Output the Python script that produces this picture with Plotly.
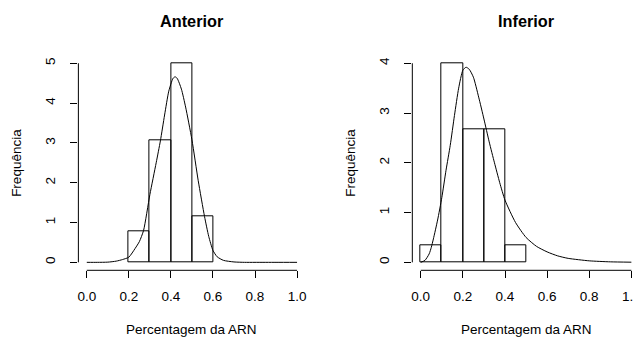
import plotly.graph_objects as go

# ---------------- data ----------------
# Anterior histogram (density scale, bins of width 0.1)
ant_bin_mid = [0.25, 0.35, 0.45, 0.55]
ant_density = [0.769, 3.077, 5.0, 1.154]
# Anterior fitted density curve
ant_curve_x = [0.00, 0.05, 0.10, 0.14, 0.17, 0.20, 0.23, 0.25, 0.27, 0.30, 0.33, 0.35,
               0.37, 0.39, 0.41, 0.42, 0.43, 0.45, 0.47, 0.50, 0.53, 0.56, 0.58, 0.60,
               0.62, 0.65, 0.70, 0.75, 0.80, 0.90, 1.00]
ant_curve_y = [0.00, 0.00, 0.005, 0.03, 0.07, 0.13, 0.35, 0.52, 0.80, 1.70, 2.50, 3.05,
               3.70, 4.30, 4.62, 4.66, 4.62, 4.35, 3.90, 3.08, 2.05, 1.15, 0.65, 0.30,
               0.14, 0.05, 0.01, 0.0, 0.0, 0.0, 0.0]

# Inferior histogram
inf_bin_mid = [0.05, 0.15, 0.25, 0.35, 0.45]
inf_density = [0.333, 4.0, 2.667, 2.667, 0.333]
# Inferior fitted density curve
inf_curve_x = [0.00, 0.02, 0.04, 0.05, 0.06, 0.08, 0.10, 0.12, 0.14, 0.16, 0.18, 0.20,
               0.215, 0.23, 0.25, 0.275, 0.30, 0.325, 0.35, 0.375, 0.40, 0.45, 0.50,
               0.55, 0.60, 0.65, 0.70, 0.80, 0.90, 1.00]
inf_curve_y = [0.00, 0.04, 0.17, 0.30, 0.47, 0.85, 1.30, 1.85, 2.35, 2.95, 3.50, 3.86,
               3.92, 3.88, 3.72, 3.32, 2.88, 2.42, 2.00, 1.60, 1.25, 0.80, 0.50,
               0.32, 0.21, 0.13, 0.08, 0.03, 0.01, 0.003]

x_ticks = [0.0, 0.2, 0.4, 0.6, 0.8, 1.0]
x_ticktext = ["0.0", "0.2", "0.4", "0.6", "0.8", "1.0"]
ant_yticks = [0, 1, 2, 3, 4, 5]
inf_yticks = [0, 1, 2, 3, 4]

titles = ["Anterior", "Inferior"]
xlabel = "Percentagem da ARN"
ylabel = "Frequência"

# ---------------- figure ----------------
# The page body has an 8px default margin; compensate so the picture lines up.
OFF = 8
W, H = 641 - OFF, 338 - OFF
FONT = "Liberation Sans, Arial, Helvetica, sans-serif"
FS = 13.5

def px_x(p):
    return (p - OFF) / W

def px_y(p):
    return 1 - (p - OFF) / H

fig = go.Figure()

bar_style = dict(marker=dict(color="rgba(0,0,0,0)", line=dict(color="black", width=1)),
                 width=0.1, showlegend=False, hoverinfo="skip")
line_style = dict(mode="lines", line=dict(color="black", width=1, shape="spline", smoothing=0.6),
                  showlegend=False, hoverinfo="skip")

fig.add_trace(go.Bar(x=ant_bin_mid, y=ant_density, xaxis="x", yaxis="y", **bar_style))
fig.add_trace(go.Scatter(x=ant_curve_x, y=ant_curve_y, xaxis="x", yaxis="y", **line_style))
fig.add_trace(go.Bar(x=inf_bin_mid, y=inf_density, xaxis="x2", yaxis="y2", **bar_style))
fig.add_trace(go.Scatter(x=inf_curve_x, y=inf_curve_y, xaxis="x2", yaxis="y2", **line_style))

# plot regions (pixels in the final picture)
left_px = [(77.6, 305.4), (412.6, 640.8)]
top_px, bot_px = 55.3, 270.3
ydom = [px_y(bot_px), px_y(top_px)]

def xaxis_cfg(dom):
    return dict(domain=[px_x(dom[0]), min(1.0, px_x(dom[1]))], range=[-0.04, 1.04],
                tickvals=x_ticks, ticktext=x_ticktext, ticks="outside", ticklen=7,
                tickwidth=1, tickcolor="black", showgrid=False, zeroline=False,
                showline=False, tickfont=dict(family=FONT, size=FS, color="black"),
                ticklabelstandoff=6, fixedrange=True)

def yaxis_cfg(ticks, anchor):
    top = ticks[-1]
    pad = top * 0.04
    return dict(domain=ydom, range=[-pad, top + pad], tickvals=ticks, ticks="outside",
                ticklen=7, tickwidth=1, tickcolor="black", showgrid=False, zeroline=False,
                showline=False, tickangle=-90, anchor=anchor,
                tickfont=dict(family=FONT, size=FS, color="black"),
                ticklabelstandoff=10, fixedrange=True)

fig.update_layout(
    width=W, height=H, margin=dict(l=0, r=0, t=0, b=0),
    paper_bgcolor="white", plot_bgcolor="white", bargap=0,
    xaxis=dict(xaxis_cfg(left_px[0]), anchor="y"),
    yaxis=yaxis_cfg(ant_yticks, "x"),
    xaxis2=dict(xaxis_cfg(left_px[1]), anchor="y2"),
    yaxis2=yaxis_cfg(inf_yticks, "x2"),
    font=dict(family=FONT, size=FS, color="black"),
)

# R-style axis lines spanning only the tick range
shapes = []
for xa, ya, ymax in [("x", "y", 5), ("x2", "y2", 4)]:
    shapes.append(dict(type="line", xref=xa, yref=ya + " domain", x0=0, x1=1, y0=0, y1=0,
                       line=dict(color="black", width=1)))
    shapes.append(dict(type="line", xref=xa + " domain", yref=ya, x0=0, x1=0, y0=0, y1=ymax,
                       line=dict(color="black", width=1)))
fig.update_layout(shapes=shapes)

annotations = []
for (l, r), t in zip(left_px, titles):
    cx = px_x((l + r) / 2)
    annotations.append(dict(text="<b>" + t + "</b>", x=cx, y=px_y(21), xref="paper", yref="paper",
                            showarrow=False, xanchor="center", yanchor="middle",
                            font=dict(family=FONT, size=16.3, color="black")))
    annotations.append(dict(text=xlabel, x=cx, y=px_y(329), xref="paper", yref="paper",
                            showarrow=False, xanchor="center", yanchor="middle",
                            font=dict(family=FONT, size=FS, color="black")))
    annotations.append(dict(text=ylabel, x=px_x(l - 61.5), y=px_y((top_px + bot_px) / 2),
                            xref="paper", yref="paper", showarrow=False, textangle=-90,
                            xanchor="center", yanchor="middle",
                            font=dict(family=FONT, size=FS, color="black")))
fig.update_layout(annotations=annotations)

fig.write_html("out.html")
